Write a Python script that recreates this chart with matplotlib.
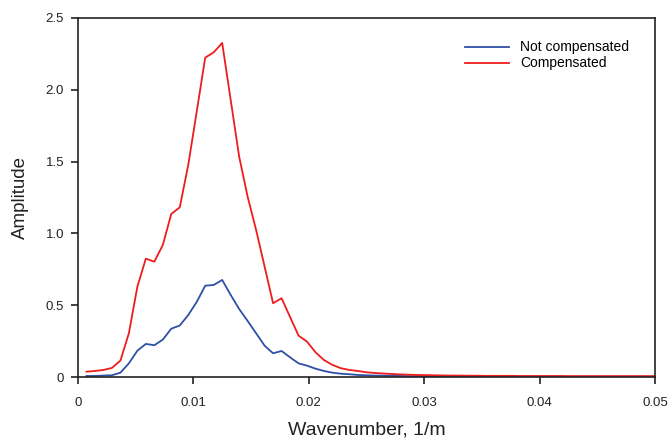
import numpy as np
import matplotlib
matplotlib.use("Agg")
from matplotlib import pyplot as plt

plt.rcParams['font.family'] = ['Liberation Sans', 'DejaVu Sans']

# wavenumber grid step (1/m)
dk = 0.000735

# amplitude, not compensated
not_comp = [0.009, 0.009, 0.012, 0.014, 0.032, 0.097, 0.185, 0.232, 0.223, 0.262,
            0.338, 0.360, 0.433, 0.524, 0.637, 0.642, 0.677, 0.573, 0.475, 0.392,
            0.306, 0.220, 0.167, 0.183, 0.139, 0.097, 0.081, 0.060, 0.044, 0.032,
            0.025, 0.021, 0.016, 0.014, 0.012, 0.011, 0.010, 0.009, 0.008, 0.007,
            0.007, 0.006, 0.006, 0.006, 0.005, 0.005, 0.005, 0.005, 0.005, 0.004,
            0.004, 0.004, 0.004, 0.004, 0.004, 0.004, 0.004, 0.004, 0.004, 0.004,
            0.004, 0.004, 0.004, 0.004, 0.004, 0.004, 0.004, 0.004]

# amplitude, compensated
comp = [0.039, 0.044, 0.051, 0.065, 0.116, 0.306, 0.630, 0.825, 0.804, 0.920,
        1.136, 1.182, 1.477, 1.848, 2.223, 2.260, 2.325, 1.930, 1.535, 1.256,
        1.025, 0.770, 0.515, 0.550, 0.420, 0.290, 0.248, 0.174, 0.120, 0.086,
        0.063, 0.051, 0.044, 0.035, 0.030, 0.026, 0.023, 0.020, 0.018, 0.016,
        0.015, 0.014, 0.013, 0.012, 0.012, 0.011, 0.011, 0.010, 0.010, 0.010,
        0.010, 0.009, 0.009, 0.009, 0.009, 0.009, 0.009, 0.008, 0.008, 0.008,
        0.008, 0.008, 0.008, 0.008, 0.008, 0.008, 0.008, 0.008]

k = np.arange(1, len(comp) + 1) * dk

xticks = [0, 0.01, 0.02, 0.03, 0.04, 0.05]
xlabels = ['0', '0.01', '0.02', '0.03', '0.04', '0.05']
yticks = [0, 0.5, 1.0, 1.5, 2.0, 2.5]
ylabels = ['0', '0.5', '1.0', '1.5', '2.0', '2.5']

fig = plt.figure(figsize=(6.7, 4.42), dpi=100)
ax = fig.add_axes([0.1164, 0.1464, 0.8612, 0.8133])

ax.plot(k, not_comp, color='#2f4fa6', lw=1.3, label='Not compensated')
ax.plot(k, comp, color='#ee1c1c', lw=1.3, label='Compensated')

ax.set_xlim(0, 0.05)
ax.set_ylim(0, 2.5)
ax.set_xticks(xticks)
ax.set_xticklabels(xlabels)
ax.set_yticks(yticks)
ax.set_yticklabels(ylabels)
ax.tick_params(direction='out', length=5, width=1.2, labelsize=9.5,
               colors='#222222', pad=9)
ax.tick_params(axis='y', pad=5)
for s in ax.spines.values():
    s.set_linewidth(1.2)
    s.set_color('#222222')

ax.set_xlabel('Wavenumber, 1/m', fontsize=14, labelpad=9, color='#222222')
ax.set_ylabel('Amplitude', fontsize=13.5, labelpad=12, color='#222222')

ax.legend(loc='upper right', frameon=False, fontsize=10, handlelength=3.2,
          handletextpad=0.8, labelspacing=0.15, bbox_to_anchor=(0.977, 0.972))

fig.savefig('out.png', dpi=100)
